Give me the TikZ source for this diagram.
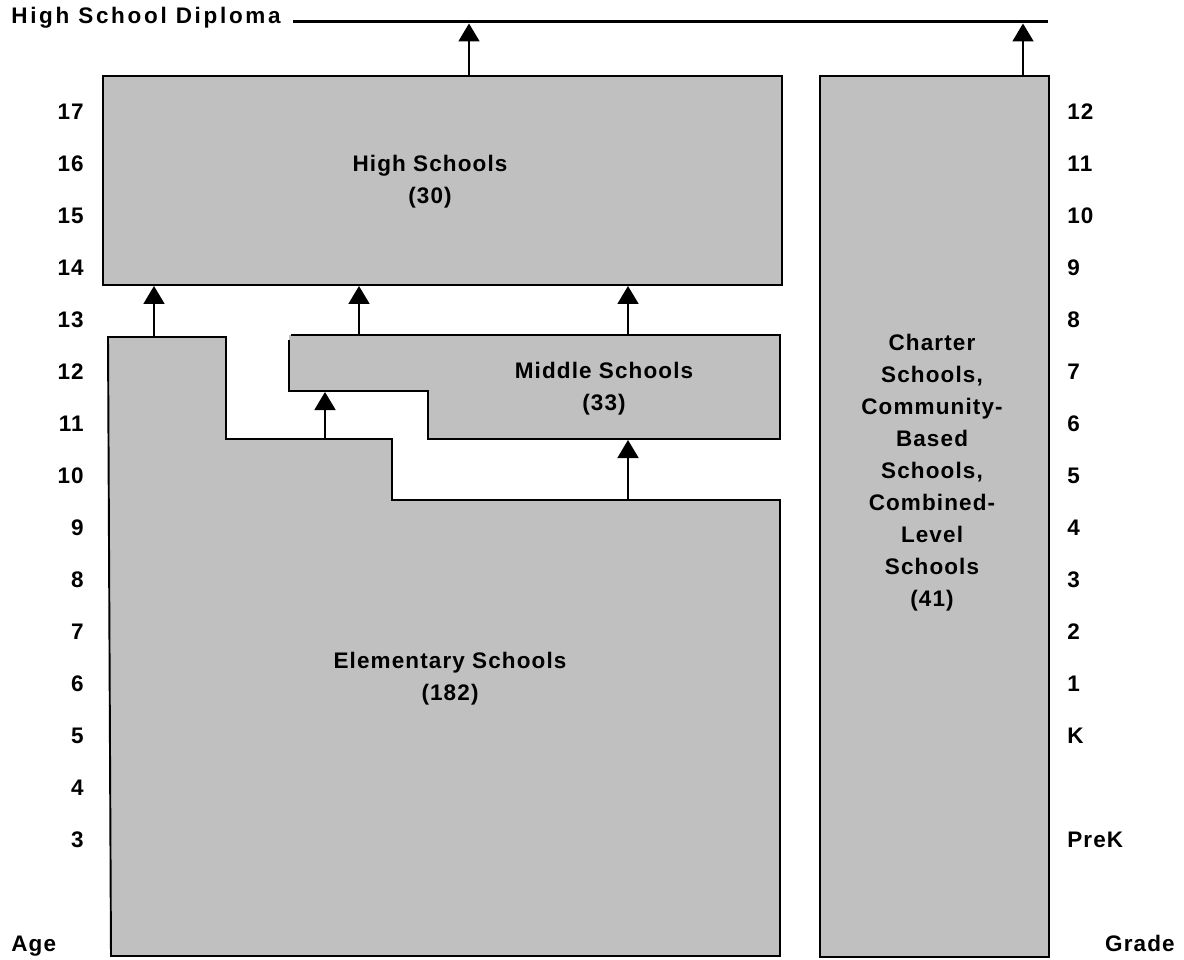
\documentclass[tikz,border=0pt]{standalone}
\usepackage{fontspec}
\usetikzlibrary{arrows.meta}
\newfontfamily\lblfont{Liberation Sans}[LetterSpace=5]
\newfontfamily\wideflont{Liberation Sans}[LetterSpace=12]
\definecolor{boxgray}{RGB}{192,192,192}

\begin{document}
\begin{tikzpicture}[x=0.02cm,y=-0.02cm,
    box/.style={draw,fill=boxgray,line width=1.1pt},
    lab/.style={font=\lblfont\bfseries\fontsize{12.8}{18.2}\selectfont,inner sep=0pt},
    up/.style={line width=1.1pt,-{Triangle[width=0.42cm,length=0.36cm]}}]
                        \useasboundingbox (0,0) rectangle (1184,960);
                        % Diploma line
                        \node[lab,font=\wideflont\bfseries\fontsize{12.8}{18.2}\selectfont,anchor=base west] (HSD) at (11,24) {High School Diploma};
                        \coordinate (DL) at (293,21.7);
                        \coordinate (DR) at (1048,21.7);
                        \draw[line width=1.9pt] (DL) -- (DR);
                        % Schools
                        \draw[box] (103,76) rectangle (782,285);
                        \draw[box] (820,76) rectangle (1049,957);
                        \draw[box] (108,337) -- (226,337) -- (226,439) -- (392,439) -- (392,500) -- (780,500) -- (780,956) -- (111,956) -- cycle;
                        \fill[boxgray] (289,335) -- (780,335) -- (780,439) -- (428,439) -- (428,391) -- (289,391) -- cycle;
                        \draw[line width=1.1pt] (291,335) -- (780,335) -- (780,439) -- (428,439) -- (428,391) -- (289,391) -- (289,340);
                        \node[lab,align=center] (HST) at (430,182) {High Schools\\(30)};
                        \node[lab,align=center] (MST) at (604,389) {Middle Schools\\(33)};
                        \node[lab,align=center] (EST) at (450,679) {Elementary Schools\\(182)};
                        \node[lab,align=center] (CST) at (932,473) {Charter\\Schools,\\Community-\\Based\\Schools,\\Combined-\\Level\\Schools\\(41)};
                        % Age
                        \node[lab,anchor=base east] (A17) at (84,119) {17};
                        \node[lab,anchor=base east] (A16) at (84,171) {16};
                        \node[lab,anchor=base east] (A15) at (84,223) {15};
                        \node[lab,anchor=base east] (A14) at (84,275) {14};
                        \node[lab,anchor=base east] (A13) at (84,327) {13};
                        \node[lab,anchor=base east] (A12) at (84,379) {12};
                        \node[lab,anchor=base east] (A11) at (84,431) {11};
                        \node[lab,anchor=base east] (A10) at (84,483) {10};
                        \node[lab,anchor=base east] (A9) at (84,535) {9};
                        \node[lab,anchor=base east] (A8) at (84,587) {8};
                        \node[lab,anchor=base east] (A7) at (84,639) {7};
                        \node[lab,anchor=base east] (A6) at (84,691) {6};
                        \node[lab,anchor=base east] (A5) at (84,743) {5};
                        \node[lab,anchor=base east] (A4) at (84,795) {4};
                        \node[lab,anchor=base east] (A3) at (84,847) {3};
                        \node[lab,anchor=base west] (AL) at (11,951) {Age};
                        % Grade
                        \node[lab,anchor=base west] (G12) at (1067,119) {12};
                        \node[lab,anchor=base west] (G11) at (1067,171) {11};
                        \node[lab,anchor=base west] (G10) at (1067,223) {10};
                        \node[lab,anchor=base west] (G9) at (1067,275) {9};
                        \node[lab,anchor=base west] (G8) at (1067,327) {8};
                        \node[lab,anchor=base west] (G7) at (1067,379) {7};
                        \node[lab,anchor=base west] (G6) at (1067,431) {6};
                        \node[lab,anchor=base west] (G5) at (1067,483) {5};
                        \node[lab,anchor=base west] (G4) at (1067,535) {4};
                        \node[lab,anchor=base west] (G3) at (1067,587) {3};
                        \node[lab,anchor=base west] (G2) at (1067,639) {2};
                        \node[lab,anchor=base west] (G1) at (1067,691) {1};
                        \node[lab,anchor=base west] (GK) at (1067,743) {K};
                        \node[lab,anchor=base west] (GP) at (1067,847) {PreK};
                        \node[lab,anchor=base east] (GL) at (1175,951) {Grade};
                        % links
                        \coordinate (H0) at (469,76);   \coordinate (D1) at (469,23.5);
                        \coordinate (C0) at (1023,76);  \coordinate (D2) at (1023,23.5);
                        \coordinate (E1) at (154,337);  \coordinate (H1) at (154,286);
                        \coordinate (M1) at (359,335);  \coordinate (H2) at (359,286);
                        \coordinate (M2) at (628,335);  \coordinate (H3) at (628,286);
                        \coordinate (E2) at (325,439);  \coordinate (M3) at (325,392);
                        \coordinate (E3) at (628,500);  \coordinate (M4) at (628,440);
                        \draw[up] (H0) -- (D1);
                        \draw[up] (C0) -- (D2);
                        \draw[up] (E1) -- (H1);
                        \draw[up] (M1) -- (H2);
                        \draw[up] (M2) -- (H3);
                        \draw[up] (E2) -- (M3);
                        \draw[up] (E3) -- (M4);
\end{tikzpicture}
\end{document}
